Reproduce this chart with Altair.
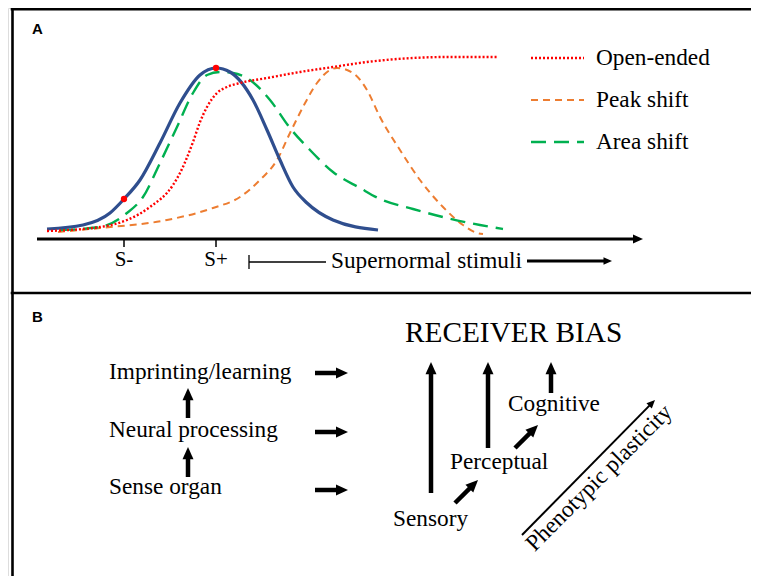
import math
import altair as alt
import pandas as pd

# ---------------- Panel A: response curves ----------------
# x = stimulus position, y = response (figure pixel units, y grows downwards)
blue_x = [47, 83, 110, 124, 140, 160, 180, 200, 216, 230, 253, 267, 280, 293, 307, 333, 378]
blue_y = [229, 225, 213, 199, 180, 143, 103, 75, 68, 72, 100, 130, 160, 187, 203, 220, 230]

green_x = [60, 100, 127, 143, 160, 177, 193, 207, 220, 233, 250, 270, 290, 310, 333, 360, 380, 413, 447, 480, 503]
green_y = [230, 227, 213, 197, 163, 127, 93, 75, 72, 73, 80, 100, 128, 150, 172, 188, 199, 209, 218, 225, 229]

red_x = [47, 100, 127, 150, 173, 180, 193, 200, 207, 217, 227, 240, 267, 300, 333, 367, 413, 447, 498]
red_y = [231, 227, 220, 207, 185, 173, 142, 122, 107, 93, 87, 83, 78, 72, 67, 62, 58, 57, 57]

orange_x = [58, 100, 167, 213, 240, 260, 277, 290, 303, 317, 330, 337, 353, 367, 380, 400, 420, 443, 463, 477, 483]
orange_y = [232, 228, 220, 208, 197, 180, 160, 133, 107, 83, 70, 68, 73, 90, 117, 150, 180, 207, 225, 233, 234]

dots_x = [124, 216]
dots_y = [199, 68]

legend_labels = ["Open-ended", "Peak shift", "Area shift"]
tick_labels = ["S-", "S+"]

# ---------------- Panel B: flow diagram labels ----------------
left_labels = ["Imprinting/learning", "Neural processing", "Sense organ"]
level_labels = ["Sensory", "Perceptual", "Cognitive"]

# ---------------- layout ----------------
W, H = 743, 568
XS = alt.Scale(domain=[8, 8 + W], nice=False, zero=False)
YS = alt.Scale(domain=[8, 8 + H], nice=False, zero=False, reverse=True)
SERIF = "Liberation Serif"
FS = 23.3


def X(f="x"):
    return alt.X(f"{f}:Q", scale=XS, axis=None)


def Y(f="y"):
    return alt.Y(f"{f}:Q", scale=YS, axis=None)


def curve(xs, ys, color, width, dash=None):
    df = pd.DataFrame({"x": xs, "y": ys, "o": range(len(xs))})
    kw = dict(interpolate="monotone", color=color, strokeWidth=width)
    if dash:
        kw["strokeDash"] = dash
    return alt.Chart(df).mark_line(**kw).encode(x=X(), y=Y(), order="o:Q")


def label(xs, ys, texts, size, align="left", **kw):
    df = pd.DataFrame({"x": xs, "y": ys, "t": texts})
    return alt.Chart(df).mark_text(font=SERIF, fontSize=size, align=align, baseline="middle",
                                   color="black", **kw).encode(x=X(), y=Y(), text="t:N")


layers = []

# frame lines
frame = pd.DataFrame([
    (12.5, 8, 12.5, 576, 2.6),
    (12, 9.3, 751, 9.3, 2.6),
    (12, 293, 751, 293, 2.6),
], columns=["x", "y", "x2", "y2", "w"])
layers.append(alt.Chart(frame).mark_rule(color="black", strokeCap="square").encode(
    x=X(), y=Y(), x2="x2:Q", y2="y2:Q", strokeWidth=alt.StrokeWidth("w:Q", scale=None)))

# curves
layers.append(curve(orange_x, orange_y, "#ED7D31", 2, [7, 5]))
layers.append(curve(green_x, green_y, "#00B050", 2.4, [15, 8]))
layers.append(curve(blue_x, blue_y, "#2F4E8E", 3.2))
layers.append(curve(red_x, red_y, "#FF0000", 2.4, [2, 2]))
layers.append(alt.Chart(pd.DataFrame({"x": dots_x, "y": dots_y})).mark_circle(
    color="#FF0000", size=40, opacity=1).encode(x=X(), y=Y()))

# legend samples
leg_y = [58, 100, 142]
leg = [("#FF0000", 2.4, [2, 2]), ("#ED7D31", 2, [7, 5]), ("#00B050", 2.4, [15, 8])]
for yy, (c, w, d) in zip(leg_y, leg):
    layers.append(curve([531, 584], [yy, yy], c, w, d))
layers.append(label([596] * 3, leg_y, legend_labels, FS))

# ticks and bracket
thin = pd.DataFrame([
    (124, 239, 124, 247, 1.5),
    (216, 239, 216, 247, 1.5),
    (249, 255, 249, 269, 1.3),
    (249, 262, 326, 262, 1.3),
], columns=["x", "y", "x2", "y2", "w"])
layers.append(alt.Chart(thin).mark_rule(color="black").encode(
    x=X(), y=Y(), x2="x2:Q", y2="y2:Q", strokeWidth=alt.StrokeWidth("w:Q", scale=None)))
layers.append(label([124, 216], [260, 260], tick_labels, 21, align="center"))
layers.append(label([331], [261], ["Supernormal stimuli"], FS))

# arrows: start, tip, line width, head size
arrows = pd.DataFrame([
    (37, 239, 643, 239, 3, 100),
    (527, 261, 612, 261, 3, 72),
    (315, 373, 348, 373, 4.5, 144),
    (315, 432, 348, 432, 4.5, 144),
    (315, 490, 348, 490, 4.5, 144),
    (188, 418, 188, 388, 4.5, 150),
    (188, 477, 188, 447, 4.5, 150),
    (431, 493, 431, 362, 4.5, 150),
    (488, 448, 488, 362, 4.5, 150),
    (551, 393, 551, 362, 4.5, 150),
    (455, 503, 478, 480, 4.5, 150),
    (515, 448, 538, 425, 4.5, 150),
    (522, 535, 655, 400, 2, 70),
], columns=["x0", "y0", "x1", "y1", "w", "s"])
ang, ex, ey = [], [], []
for r in arrows.itertuples():
    dx, dy = r.x1 - r.x0, r.y1 - r.y0
    L = math.hypot(dx, dy)
    ang.append(math.degrees(math.atan2(dx, -dy)) % 360)
    back = math.sqrt(r.s) * 0.7
    ex.append(r.x1 - dx / L * back)
    ey.append(r.y1 - dy / L * back)
arrows["angle"] = ang
arrows["ex"] = ex
arrows["ey"] = ey

layers.append(alt.Chart(arrows).mark_rule(color="black", strokeCap="butt").encode(
    x=X("x0"), y=Y("y0"), x2="ex:Q", y2="ey:Q", strokeWidth=alt.StrokeWidth("w:Q", scale=None)))
layers.append(alt.Chart(arrows).mark_point(
    shape="M0,0L0.9,2L-0.9,2Z", filled=True, color="black", opacity=1, strokeWidth=0).encode(
    x=X("x1"), y=Y("y1"), angle=alt.Angle("angle:Q", scale=None), size=alt.Size("s:Q", scale=None)))

# panel letters
layers.append(alt.Chart(pd.DataFrame({"x": [32, 32], "y": [29, 317], "t": ["A", "B"]})).mark_text(
    font="Liberation Sans", fontWeight="bold", fontSize=15, align="left", baseline="middle",
    color="black").encode(x=X(), y=Y(), text="t:N"))

# panel B texts
layers.append(label([109, 109, 109], [372, 430, 487], left_labels, FS))
layers.append(label([393, 450, 508], [519, 462, 404], level_labels, FS))
layers.append(label([405], [333], ["RECEIVER BIAS"], 29.3))
layers.append(label([599], [478], ["Phenotypic plasticity"], FS, align="center", angle=315))

chart = alt.layer(*layers).properties(
    width=W, height=H, padding=0, autosize=alt.AutoSizeParams(type="none")
).configure_view(stroke=None).configure(background="white")

chart.save("out.html", embed_options={"renderer": "svg", "actions": False})
